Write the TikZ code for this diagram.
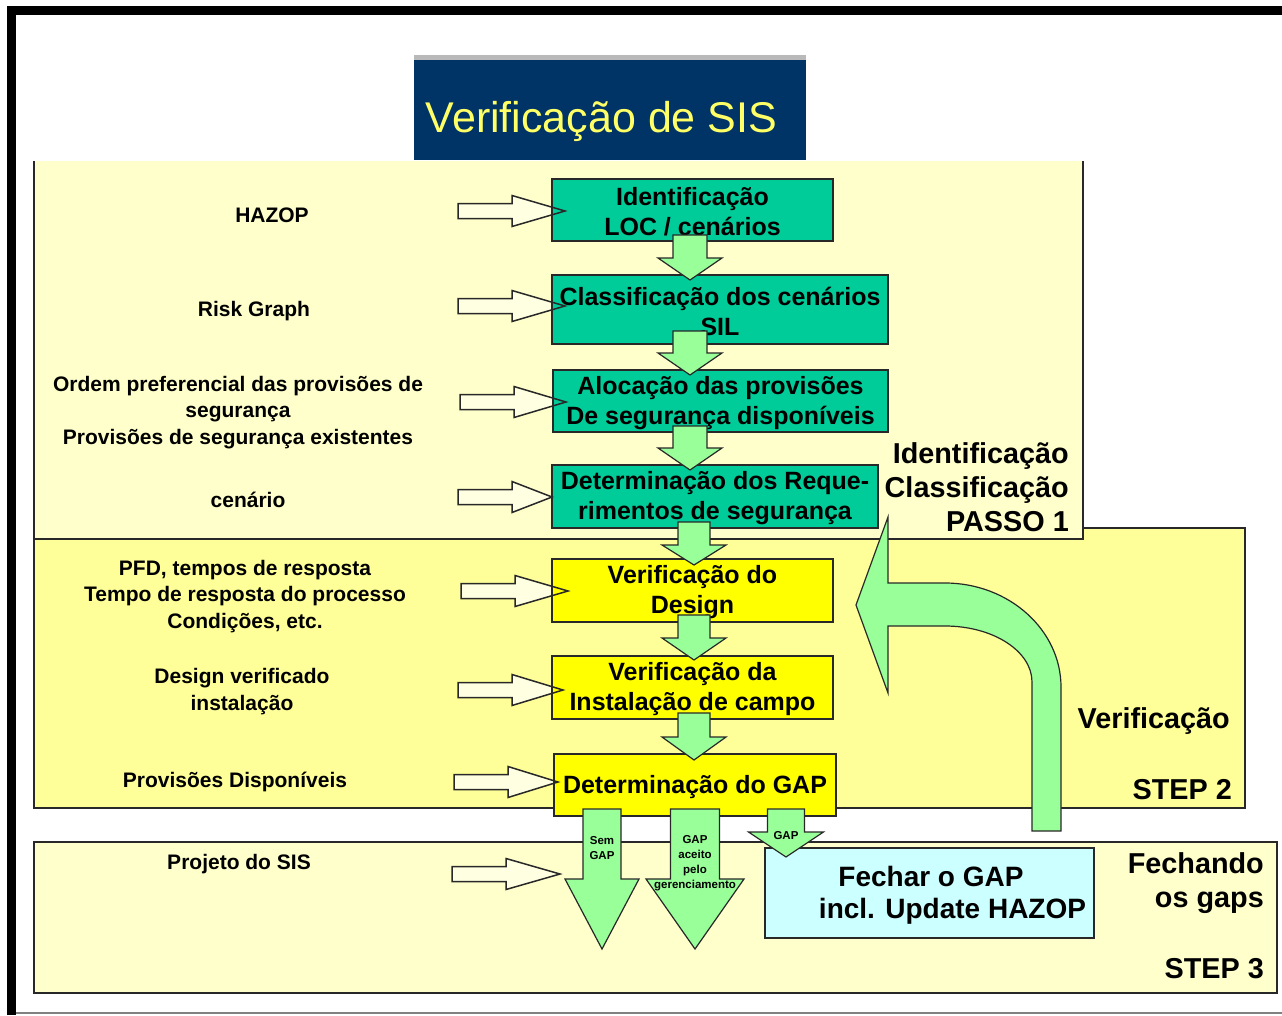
\documentclass[tikz,border=0pt]{standalone}
\usepackage{fontspec}
\setmainfont{Liberation Sans}

\definecolor{navy}{RGB}{0,51,102}
\definecolor{titleyellow}{RGB}{255,255,102}
\definecolor{paleyellow}{RGB}{255,255,204}
\definecolor{midyellow}{RGB}{255,255,153}
\definecolor{boxteal}{RGB}{0,204,153}
\definecolor{boxyellow}{RGB}{255,255,0}
\definecolor{lightgreen}{RGB}{153,255,153}
\definecolor{lightcyan}{RGB}{204,255,255}
\definecolor{cream}{RGB}{255,255,226}
\definecolor{edge}{RGB}{40,40,40}

% block arrow pointing right: style, x start, y centre, shaft end, tip
\newcommand\hollow[5]{\path[#1] (#2,#3-7.5) -- (#4,#3-7.5) -- (#4,#3-15.5) -- (#5,#3)
  -- (#4,#3+15.5) -- (#4,#3+7.5) -- (#2,#3+7.5) -- cycle;}
% block arrow pointing down: style, x centre, top, head start, tip, shaft half, head half
\newcommand\blockdown[7]{\path[#1] (#2-#6,#3) -- (#2+#6,#3) -- (#2+#6,#4) -- (#2+#7,#4)
  -- (#2,#5) -- (#2-#7,#4) -- (#2-#6,#4) -- cycle;}

\tikzset{
  stepbox/.style={draw=edge, line width=1.3pt, inner sep=0pt},
  tealbox/.style={stepbox, fill=boxteal},
  yelbox/.style={stepbox, fill=boxyellow},
  boxtext/.style={align=center, inner sep=0pt, yshift=-2pt,
    font=\bfseries\fontsize{25}{30}\selectfont},
  inlabel/.style={align=center, inner sep=0pt, yshift=-2pt,
    font=\bfseries\fontsize{21}{26.5}\selectfont},
  sidelabel/.style={align=right, anchor=east, inner sep=0pt,
    font=\bfseries\fontsize{28.8}{34}\selectfont},
  tinylabel/.style={align=center, inner sep=0pt, font=\bfseries\fontsize{11.5}{15}\selectfont},
  garrow/.style={fill=lightgreen, draw=edge, line width=1.2pt},
  hfill/.style={fill=cream},
  hline/.style={draw=edge, line width=1.5pt},
  panel/.style={draw=edge, line width=1.2pt}
}

\begin{document}
\begin{tikzpicture}[x=1pt,y=-1pt]
\useasboundingbox (0,0) rectangle (1282,1015);
\fill[white] (0,0) rectangle (1282,1015);

% page frame
\draw[line width=9pt] (11.5,1015) -- (11.5,10.5) -- (1282,10.5);
\draw[gray, line width=1.5pt] (16,1013) -- (1282,1013);

% title
\fill[gray!55] (414,55) rectangle (806,60);
\node[fill=navy, minimum width=392pt, minimum height=100pt, inner sep=0pt] (title) at (610,110) {};
\node[text=titleyellow, inner sep=0pt, font=\fontsize{43}{50}\selectfont] (titletext) at (601.5,121) {Verificação de SIS};

% stage panels
\filldraw[panel, fill=midyellow] (34,528) rectangle (1245,808);
\fill[paleyellow] (34,161) rectangle (1083,539);
\draw[panel] (34,161) -- (34,539) -- (1083,539) -- (1083,161);
\filldraw[panel, fill=paleyellow] (34,842) rectangle (1277,993);

% input arrows (fill)
\hollow{hfill}{458}{211}{512}{565}
\hollow{hfill}{458}{306}{512}{565}
\hollow{hfill}{460}{402}{514}{566}
\hollow{hfill}{458}{497}{512}{552}
\hollow{hfill}{461}{591}{515}{568}
\hollow{hfill}{458}{690}{512}{563}
\hollow{hfill}{454}{782}{508}{558}
\hollow{hfill}{452}{874}{506}{560}

% process boxes
\node[tealbox, minimum width=281pt, minimum height=62pt] (b1) at (692.5,210) {};
\node[tealbox, minimum width=336pt, minimum height=69pt] (b2) at (720,309.5) {};
\node[tealbox, minimum width=335pt, minimum height=62pt] (b3) at (720.5,401) {};
\node[tealbox, minimum width=326pt, minimum height=63pt] (b4) at (715,496.5) {};
\node[yelbox, minimum width=281pt, minimum height=63pt] (b5) at (692.5,590.5) {};
\node[yelbox, minimum width=281pt, minimum height=63pt] (b6) at (692.5,687.5) {};
\node[yelbox, minimum width=282pt, minimum height=62pt] (b7) at (695,785) {};
\node[stepbox, fill=lightcyan, minimum width=329pt, minimum height=90pt] (gap) at (929.5,893) {};

% input arrows (outline)
\hollow{hline}{458}{211}{512}{565}
\hollow{hline}{458}{306}{512}{565}
\hollow{hline}{460}{402}{514}{566}
\hollow{hline}{458}{497}{512}{552}
\hollow{hline}{461}{591}{515}{568}
\hollow{hline}{458}{690}{512}{563}
\hollow{hline}{454}{782}{508}{558}
\hollow{hline}{452}{874}{506}{560}

% box texts
\node[boxtext] (b1t) at (b1) {Identificação\\LOC / cenários};
\node[boxtext] (b2t) at (b2) {Classificação dos cenários\\SIL};
\node[boxtext] (b3t) at (b3) {Alocação das provisões\\De segurança disponíveis};
\node[boxtext] (b4t) at (b4) {Determinação dos Reque-\\rimentos de segurança};
\node[boxtext] (b5t) at (b5) {Verificação do\\Design};
\node[boxtext] (b6t) at (b6) {Verificação da\\Instalação de campo};
\node[boxtext] (b7t) at (b7) {Determinação do GAP};
\node[inner sep=0pt, font=\bfseries\fontsize{28}{34}\selectfont] (gapt1) at (931,876) {Fechar o GAP};
\node[inner sep=0pt, font=\bfseries\fontsize{28}{34}\selectfont] (gapt2) at (952.5,911) {incl. Update HAZOP};

% flow arrows between the boxes
\blockdown{garrow}{690}{235}{258}{280}{17}{32}
\blockdown{garrow}{690}{331}{353}{375}{17}{32}
\blockdown{garrow}{690}{426}{448}{470}{17}{32}
\blockdown{garrow}{694}{522}{545}{565}{16}{32}
\blockdown{garrow}{694}{615}{638}{660}{16}{32}
\blockdown{garrow}{694}{713}{737}{760}{16}{32}

% outcome arrows below the GAP box
\blockdown{garrow}{602}{809}{879}{949}{19}{37}
\blockdown{garrow}{695}{809}{879}{949}{24.5}{49}
\blockdown{garrow}{786}{809}{832}{857}{18.5}{37.5}
\node[tinylabel] (semgap) at (602,848) {Sem\\GAP};
\node[tinylabel] (aceito) at (695,863.5) {GAP\\aceito\\pelo\\gerenciamento};
\node[tinylabel] (gaplbl) at (786,836) {GAP};

% loop-back arrow from verification to identification
\filldraw[garrow] (1032,831) -- (1032,682)
  .. controls (1032,651) and (993,626) .. (945,626)
  -- (888,626) -- (888,693) -- (856,605) -- (888,517) -- (888,583) -- (945,583)
  .. controls (1009,583) and (1061,630) .. (1061,687)
  -- (1061,831) -- cycle;

% input labels
\node[inlabel] (l1) at (272,213) {HAZOP};
\node[inlabel] (l2) at (254,309) {Risk Graph};
\node[inlabel] (l3) at (238,410.5) {Ordem preferencial das provisões de\\segurança\\Provisões de segurança existentes};
\node[inlabel] (l4) at (248,498) {cenário};
\node[inlabel] (l5) at (245,594.5) {PFD, tempos de resposta\\Tempo de resposta do processo\\Condições, etc.};
\node[inlabel] (l6) at (242,689.5) {Design verificado\\instalação};
\node[inlabel] (l7) at (235,780) {Provisões Disponíveis};
\node[inlabel] (l8) at (239,862) {Projeto do SIS};

% stage labels
\node[sidelabel] (s1) at (1069,487) {Identificação\\Classificação\\PASSO 1};
\node[sidelabel] (s2) at (1230,721) {Verificação};
\node[sidelabel] (s2b) at (1232,790) {STEP 2};
\node[sidelabel] (s3) at (1264,883) {Fechando\\os gaps};
\node[sidelabel] (s3b) at (1264,969) {STEP 3};
\end{tikzpicture}
\end{document}
